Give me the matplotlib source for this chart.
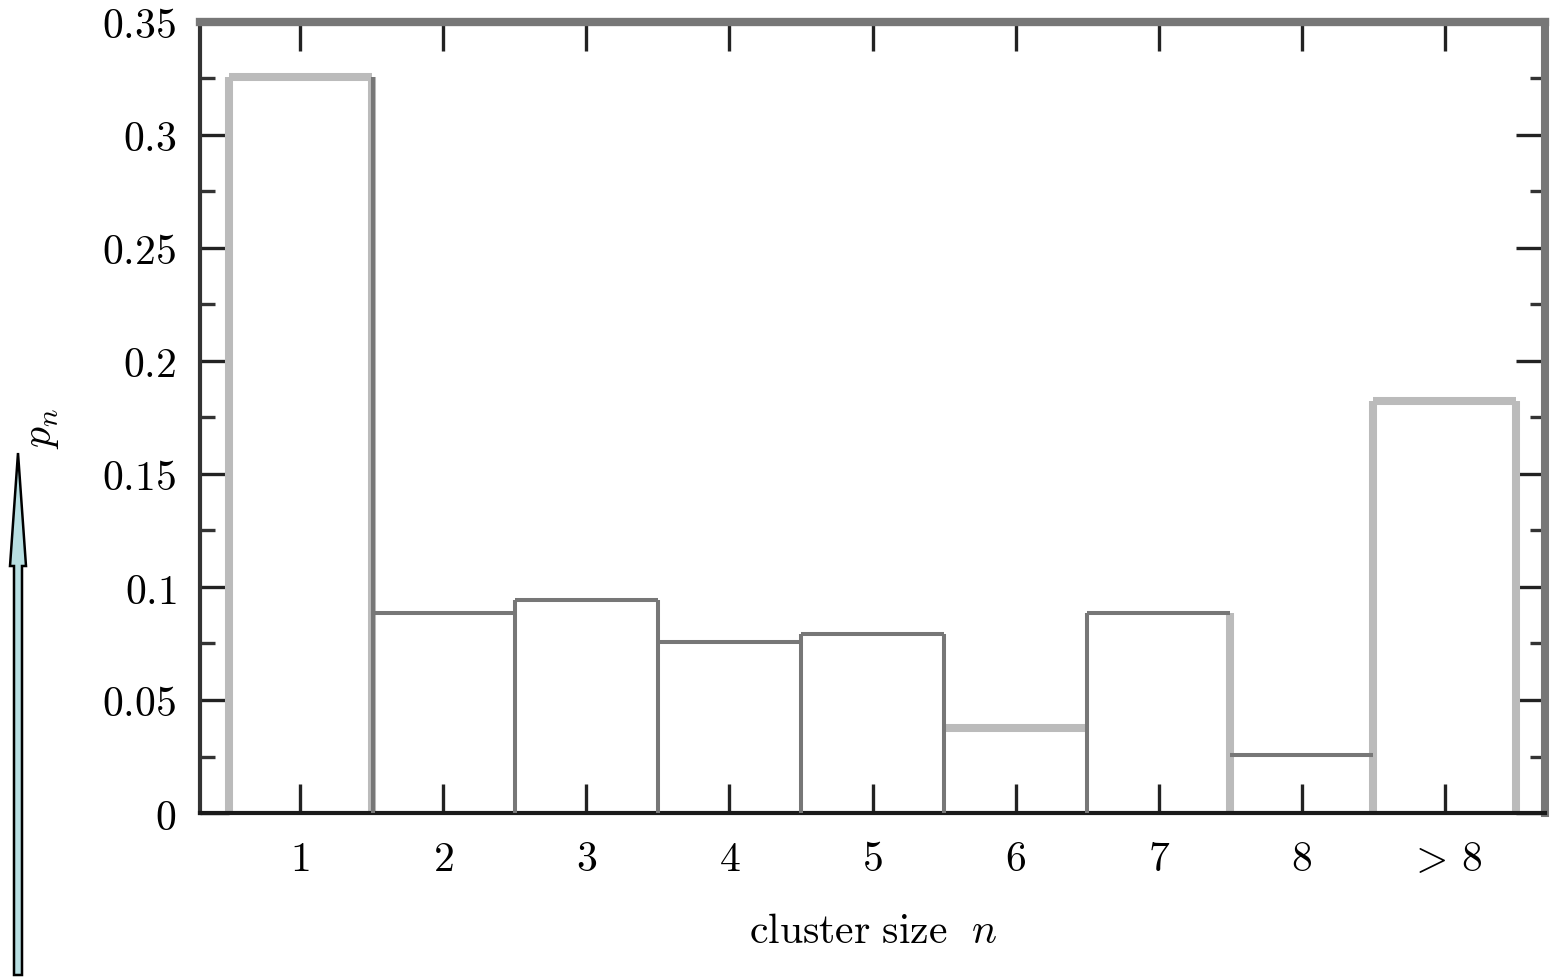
import matplotlib
matplotlib.use("Agg")
import matplotlib.pyplot as plt
from matplotlib.patches import FancyArrow
import numpy as np

plt.rcParams['mathtext.fontset'] = 'cm'
plt.rcParams['font.family'] = ['DejaVu Serif']

# ---- data ----
categories = ['1', '2', '3', '4', '5', '6', '7', '8', '> 8']
p_n = [0.3255, 0.0887, 0.0942, 0.0758, 0.0793, 0.0378, 0.0886, 0.0255, 0.1825]
y_tick_values = [0, 0.05, 0.1, 0.15, 0.2, 0.25, 0.3, 0.35]
y_tick_labels = ['0', '0.05', '0.1', '0.15', '0.2', '0.25', '0.3', '0.35']

# ---- styles ----
LIGHT = '#bbbbbb'
DARK = '#777777'
top_styles = ['L', 'D', 'D', 'D', 'D', 'L', 'D', 'D', 'L']
# edge styles for boundaries 0.5, 1.5, ..., 9.5
edge_styles = ['L', 'LD', 'D', 'D', 'D', 'D', 'D', 'L', 'L', 'L']
LW = {'L': 5.8, 'D': 2.9}
COL = {'L': LIGHT, 'D': DARK}
FS = 30

fig = plt.figure(figsize=(15.54, 9.80), dpi=100)
ax = fig.add_axes([200/1554, 1-813/980, 1345/1554, 791/980])

n = len(categories)
x = np.arange(1, n + 1)

# vertical edges (drawn first)
for i in range(n + 1):
    xb = i + 0.5
    left = p_n[i - 1] if i - 1 >= 0 else 0
    right = p_n[i] if i < n else 0
    h = max(left, right)
    for s in edge_styles[i]:
        xo = xb + (0.012 if (s == 'D' and len(edge_styles[i]) > 1) else 0)
        ax.plot([xo, xo], [0, h], color=COL[s], lw=LW[s], solid_capstyle='butt',
                zorder=2 if s == 'L' else 3)

# bar tops
for i in range(n):
    s = top_styles[i]
    ax.plot([x[i] - 0.5, x[i] + 0.5], [p_n[i], p_n[i]], color=COL[s], lw=LW[s],
            solid_capstyle='butt', zorder=2 if s == 'L' else 3)

ax.set_xlim(0.3, 9.7)
ax.set_ylim(0, 0.35)

ax.set_xticks(x)
ax.set_xticklabels(['$' + c.replace('> ', r'>\,') + '$' for c in categories], fontsize=FS)
ax.set_yticks(y_tick_values)
ax.set_yticklabels(['$' + t + '$' for t in y_tick_labels], fontsize=FS)
ax.set_yticks(np.arange(0.025, 0.35, 0.05), minor=True)

ax.tick_params(axis='both', which='major', direction='in', length=21, width=2.4, color='#222222')
ax.tick_params(axis='y', which='minor', direction='in', length=11, width=2.4, color='#333333', right=True)
ax.tick_params(axis='y', which='major', right=True, pad=17)
ax.tick_params(axis='x', which='major', top=True, pad=18)

ax.spines['top'].set_color(DARK)
ax.spines['top'].set_linewidth(6.0)
ax.spines['right'].set_color(DARK)
ax.spines['right'].set_linewidth(5.8)
ax.spines['bottom'].set_color('#1a1a1a')
ax.spines['bottom'].set_linewidth(3.0)
ax.spines['left'].set_color('#333333')
ax.spines['left'].set_linewidth(3.0)

ax.set_xlabel(r'$\mathrm{cluster\ size}\ \ n$', fontsize=FS)
ax.xaxis.set_label_coords(0.5, -0.122)

fig.text(40/1554, 1-428/980, r'$p_n$', fontsize=FS, rotation=90, ha='center', va='center')

# arrow in pixel-based inches
arrow = FancyArrow(0.18, 0.05, 0, 5.22, width=0.08, head_width=0.16, head_length=1.13,
                   length_includes_head=True, transform=fig.dpi_scale_trans,
                   facecolor='#b8dfe2', edgecolor='black', linewidth=1.8)
fig.patches.append(arrow)

fig.savefig('out.png', dpi=100)
